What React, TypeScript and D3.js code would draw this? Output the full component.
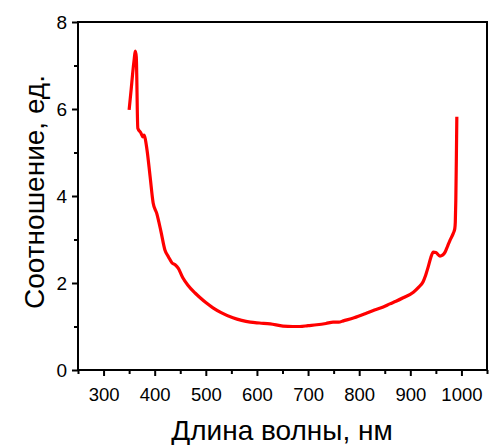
import { useEffect, useRef } from 'react';
import * as d3 from 'd3';

// wavelength, nm
const wavelength = [
  350, 354, 357, 360, 362, 364, 367, 373, 377, 379, 385, 391, 397, 404, 412, 420,
  427, 434, 440, 446, 455, 465, 479, 489, 500, 514, 530, 553, 570, 587, 605, 626,
  651, 670, 684, 700, 717, 735, 749, 760, 769, 790, 815, 830, 847, 860, 872, 886,
  906, 916, 925, 930, 935, 940, 945, 950, 958, 963, 968, 973, 978, 984, 987, 988,
  989, 990, 991,
];
// ratio, a.u.
const ratio = [
  5.98, 6.45, 6.83, 7.15, 7.33, 7.2, 5.56, 5.45, 5.36, 5.4, 5.06, 4.45, 3.84, 3.6, 3.2, 2.76,
  2.6, 2.46, 2.42, 2.34, 2.12, 1.95, 1.77, 1.66, 1.55, 1.43, 1.32, 1.2, 1.14, 1.1, 1.08, 1.06,
  1.01, 1.0, 1.0, 1.02, 1.04, 1.07, 1.1, 1.1, 1.13, 1.2, 1.31, 1.38, 1.45, 1.52, 1.58, 1.66,
  1.79, 1.9, 2.03, 2.18, 2.37, 2.58, 2.71, 2.7, 2.62, 2.64, 2.71, 2.85, 2.99, 3.14, 3.25, 3.4,
  3.9, 4.8, 5.82,
];
const xTicks = [300, 400, 500, 600, 700, 800, 900, 1000];
const xMinorTicks = [250, 350, 450, 550, 650, 750, 850, 950, 1050];
const yTicks = [0, 2, 4, 6, 8];
const yMinorTicks = [1, 3, 5, 7];

const W = 489;
const H = 445;
const margin = { top: 22, right: 2, bottom: 75, left: 78 };

export default function App() {
  const svgRef = useRef<SVGSVGElement>(null);

  useEffect(() => {
    if (!svgRef.current) return;
    const svg = d3.select(svgRef.current);
    svg.selectAll('*').remove();

    const innerW = W - margin.left - margin.right;
    const innerH = H - margin.top - margin.bottom;
    const g = svg.append('g').attr('transform', `translate(${margin.left},${margin.top})`);

    const x = d3.scaleLinear().domain([250, 1050]).range([0, innerW]);
    const y = d3.scaleLinear().domain([0, 8]).range([innerH, 0]);

    const font = 'Arial, "Liberation Sans", sans-serif';

    // Curve
    const line = d3.line<number>()
      .x((_, i) => x(wavelength[i]))
      .y((d) => y(d))
      .curve(d3.curveMonotoneX);

    g.append('path')
      .datum(ratio)
      .attr('fill', 'none')
      .attr('stroke', '#ff0000')
      .attr('stroke-width', 3.2)
      .attr('stroke-linejoin', 'round')
      .attr('d', line);

    // Frame
    g.append('rect')
      .attr('x', 0).attr('y', 0)
      .attr('width', innerW).attr('height', innerH)
      .attr('fill', 'none')
      .attr('stroke', '#000')
      .attr('stroke-width', 2);

    // X axis
    const xAxis = g.append('g')
      .attr('transform', `translate(0,${innerH})`)
      .call(d3.axisBottom(x).tickValues(xTicks).tickSize(6).tickPadding(12).tickFormat(d3.format('d')));
    xAxis.selectAll('text')
      .attr('fill', '#000')
      .attr('font-family', font)
      .attr('font-size', '18.5px');
    g.append('g')
      .attr('transform', `translate(0,${innerH})`)
      .call(d3.axisBottom(x).tickValues(xMinorTicks).tickSize(4).tickFormat(() => ''));

    // Y axis
    const yAxis = g.append('g')
      .call(d3.axisLeft(y).tickValues(yTicks).tickSize(6).tickPadding(5));
    yAxis.selectAll('text')
      .attr('fill', '#000')
      .attr('font-family', font)
      .attr('font-size', '19px');
    g.append('g')
      .call(d3.axisLeft(y).tickValues(yMinorTicks).tickSize(4).tickFormat(() => ''));

    svg.selectAll('.domain').remove();
    svg.selectAll('.tick line').attr('stroke', '#000').attr('stroke-width', 2);

    // Titles
    svg.append('text')
      .attr('x', 282)
      .attr('y', 440)
      .attr('text-anchor', 'middle')
      .attr('font-family', font)
      .attr('font-size', '28px')
      .text('Длина волны, нм');

    svg.append('text')
      .attr('transform', `translate(44,${margin.top + innerH / 2 - 4}) rotate(-90)`)
      .attr('text-anchor', 'middle')
      .attr('font-family', font)
      .attr('font-size', '28px')
      .text('Соотношение, ед.');
  }, []);

  return (
    <svg
      ref={svgRef}
      width={W}
      height={H}
      style={{ position: 'absolute', left: 0, top: 0, background: '#fff' }}
    />
  );
}
